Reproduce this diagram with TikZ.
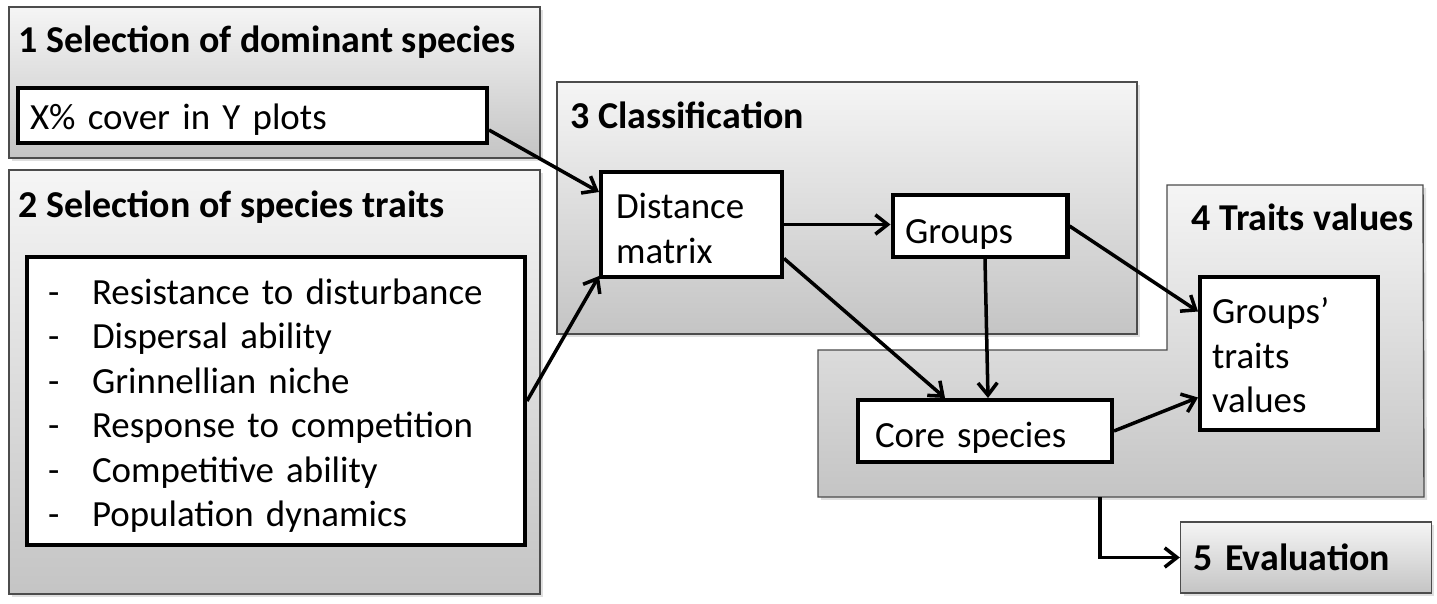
\documentclass[tikz,border=0pt]{standalone}
\usepackage{fontspec}
\setmainfont{Carlito}
\usetikzlibrary{arrows.meta,shadows}

\begin{document}
\begin{tikzpicture}[x=0.02cm,y=-0.02cm,
    every node/.style={font=\fontsize{21}{25.3}\selectfont},
    panel/.style={draw=black!70, line width=0.8pt, top color=black!4, bottom color=black!23,
        drop shadow={opacity=0.25, shadow xshift=0.06cm, shadow yshift=-0.06cm}},
    title/.style={font=\fontsize{21.6}{26}\selectfont\bfseries, inner sep=0pt},
    box/.style={draw=black, line width=2.3pt, fill=white, align=left, inner ysep=0pt},
    arrow/.style={line width=2pt, -{Straight Barb[length=7pt,width=11pt]}}]
    \useasboundingbox (0,0) rectangle (1437,604);

    % panels
    \path[panel] (9,7) rectangle (540,158);
    \path[panel] (9,170) rectangle (540,594);
    \path[panel] (557,82) rectangle (1137,334);
    \path[panel] (818,350) -- (1167,350) -- (1167,185) -- (1423,185) -- (1424,497) -- (818,497) -- cycle;

    \node[title, anchor=base west] (t1) at (18,53) {1 Selection of dominant species};
    \node[title, anchor=base west] (t2) at (18,218) {2 Selection of species traits};
    \node[title, anchor=base west] (t3) at (570,129) {3 Classification};
    \node[title, anchor=base east] (t4) at (1414,231) {4 Traits values};
    \node[panel, title, align=left, text width=4.5cm, inner xsep=0.26cm, minimum height=1.42cm] (eval) at (1306,557.5) {5 Evaluation};

    % boxes
    \node[box, text width=8.9cm, inner xsep=0.24cm, minimum height=1.1cm] (cover) at (252.5,115.5) {\rule{0pt}{19pt}X\% cover in Y plots};
    \node[box, text width=9.12cm, inner xsep=0.42cm, minimum height=5.76cm] (traits) at (276,401) {\rule{0pt}{20pt}%
        \makebox[0.88cm][l]{-}Resistance to disturbance\\
        \makebox[0.88cm][l]{-}Dispersal ability\\
        \makebox[0.88cm][l]{-}Grinnellian niche\\
        \makebox[0.88cm][l]{-}Response to competition\\
        \makebox[0.88cm][l]{-}Competitive ability\\
        \makebox[0.88cm][l]{-}Population dynamics};
    \node[box, text width=3.02cm, inner xsep=0.3cm, minimum height=2.1cm] (dist) at (691.5,224.5) {\rule{0pt}{19pt}Distance\\matrix};
    \node[box, text width=3.0cm, inner xsep=0.25cm, minimum height=1.24cm] (groups) at (980,226) {\rule{0pt}{23pt}Groups};
    \node[box, text width=3.08cm, inner xsep=0.24cm, minimum height=3.06cm] (gtv) at (1289,353.5) {\rule{0pt}{17pt}Groups’\\traits\\values};
    \node[box, text width=4.4cm, inner xsep=0.34cm, minimum height=1.24cm] (core) at (985,431) {\rule{0pt}{22pt}Core species};
    \coordinate (exit) at (1100,497);

    % arrows
    \path[arrow] ([yshift=-0.29cm]cover.east) edge ([yshift=0.65cm]dist.west);
    \path[arrow] (traits.east) edge ([yshift=0.06cm]dist.south west);
    \path[arrow] (dist.east) edge (dist.east -| groups.west);
    \path[arrow] ([yshift=-0.68cm]dist.east) edge ([xshift=-0.8cm]core.north);
    \path[arrow] ([xshift=0.1cm]groups.south) edge ([xshift=0.06cm]core.north);
    \path[arrow] (groups.east) edge ([yshift=0.84cm]gtv.west);
    \path[arrow] (core.east) edge ([yshift=-0.88cm]gtv.west);
    \draw[arrow] (exit) |- (eval.west);
\end{tikzpicture}
\end{document}
